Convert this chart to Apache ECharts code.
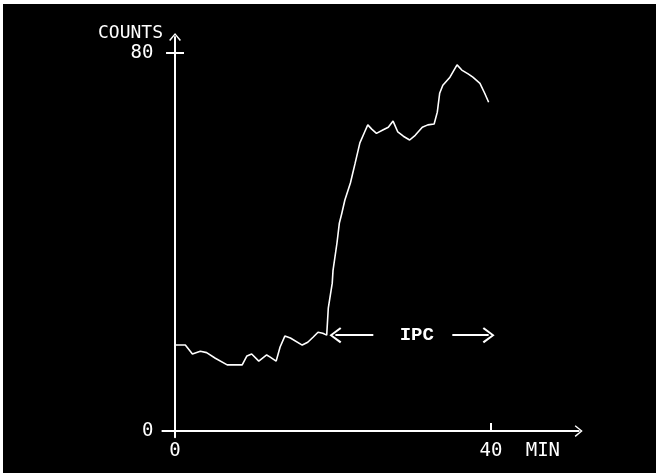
<!DOCTYPE html>
<html>
<head>
<meta charset="utf-8">
<script src="https://cdn.jsdelivr.net/npm/echarts@6/dist/echarts.min.js"></script>
<style>
html,body{margin:0;padding:0;background:#ffffff;width:656px;height:473px;overflow:hidden;}
#chart{position:absolute;left:3px;top:4px;width:653px;height:469px;background:#000;}
</style>
</head>
<body>
<div id="chart"></div>
<script>
// Time (min) and counts
var times = [0,1.3,2.2,3.2,4.0,5.1,6.6,8.5,9.1,9.7,10.6,11.6,12.0,12.8,13.3,13.9,14.6,16.1,16.8,17.5,18.1,18.7,19.2,
  19.4,19.9,20.0,20.5,20.8,21.1,21.5,22.2,22.8,23.4,24.0,24.4,24.9,25.5,26.3,27.0,27.6,28.2,28.9,29.7,30.4,31.3,32.0,32.8,33.2,33.5,33.9,34.8,35.7,36.3,37.1,37.7,38.6,39.2,39.7];
var counts = [18.2,18.2,16.3,16.9,16.6,15.4,14.0,14.0,15.9,16.3,14.8,16.1,15.7,14.8,17.8,20.1,19.7,18.2,18.8,19.9,20.9,20.7,20.3,
  26,31.3,34,39.8,44,46,48.9,52.5,56.7,61,63.3,64.8,63.9,63,63.7,64.3,65.6,63.3,62.4,61.6,62.6,64.3,64.8,65,67.5,71.5,73.2,74.9,77.5,76.4,75.6,74.9,73.6,71.5,69.6];
var xTickValues = [0, 40];
var xTickLabels = ['0', '40'];
var xUnit = 'MIN';
var yTickValues = [0, 80];
var yTickLabels = ['0', '80'];
var yName = 'COUNTS';
// IPC annotation (data coordinates)
var ipcLabel = 'IPC';
var ipcLevel = 20.3;
var ipcLeftArrow = [25.1, 20.3];   // from, to (arrowhead)
var ipcRightArrow = [35.1, 39.7];
var ipcTextX = 30.6;

var seriesData = times.map(function (t, i) { return [t, counts[i]]; });

var chevron = 'path://M10,0 L20,12 L18,13.5 L10,3.5 L2,13.5 L0,12 Z';
var font = 'DejaVu Sans Mono';

var chart = echarts.init(document.getElementById('chart'), null, {renderer: 'canvas'});
chart.setOption({
  backgroundColor: '#000',
  animation: false,
  grid: {left: 159.4, top: 33, width: 416.3, height: 400.2},
  xAxis: {
    type: 'value', min: -1.6, max: 51.1,
    splitLine: {show: false},
    axisLine: {onZero: true, symbol: ['none', chevron], symbolSize: [12, 8],
      lineStyle: {color: '#fff', width: 2}},
    axisTick: {show: true, inside: true, length: 8, customValues: [40],
      lineStyle: {color: '#fff', width: 2}},
    axisLabel: {customValues: xTickValues, margin: 4, color: '#fff',
      fontFamily: font, fontSize: 19,
      formatter: function (v) { return xTickLabels[xTickValues.indexOf(v)]; }},
    name: xUnit, nameLocation: 'end', nameGap: -53,
    nameTextStyle: {color: '#fff', fontFamily: font, fontSize: 19,
      align: 'left', verticalAlign: 'top', padding: [11, 0, 0, 0]}
  },
  yAxis: [{
    type: 'value', min: -1.3, max: 83.4,
    splitLine: {show: false},
    axisLine: {onZero: true, symbol: ['none', chevron], symbolSize: [18, 8],
      lineStyle: {color: '#fff', width: 2}},
    axisTick: {show: true, length: 9, customValues: [80],
      lineStyle: {color: '#fff', width: 2}},
    axisLabel: {customValues: yTickValues, margin: 9, color: '#fff',
      fontFamily: font, fontSize: 19,
      formatter: function (v) { return yTickLabels[yTickValues.indexOf(v)]; }},
    name: yName, nameLocation: 'end', nameGap: 4,
    nameTextStyle: {color: '#fff', fontFamily: font, fontSize: 18,
      align: 'right', verticalAlign: 'middle', padding: [0, 12, 0, 0]}
  }, {
    type: 'value', min: -1.3, max: 83.4, position: 'left', offset: -12.6,
    splitLine: {show: false},
    axisLine: {show: false, onZero: false},
    axisTick: {show: true, inside: true, length: 9, customValues: [80],
      lineStyle: {color: '#fff', width: 2}},
    axisLabel: {show: false}
  }],
  series: [{
    type: 'line',
    data: seriesData,
    showSymbol: false,
    lineStyle: {color: '#fff', width: 1.6},
    markLine: {
      silent: true,
      symbol: ['none', chevron],
      symbolSize: [16, 12],
      label: {show: false},
      lineStyle: {color: '#fff', width: 2, type: 'solid'},
      itemStyle: {color: '#fff'},
      data: [
        [{coord: [ipcLeftArrow[0], ipcLevel]}, {coord: [ipcLeftArrow[1], ipcLevel]}],
        [{coord: [ipcRightArrow[0], ipcLevel]}, {coord: [ipcRightArrow[1], ipcLevel]}]
      ]
    },
    markPoint: {
      silent: true,
      symbol: 'circle', symbolSize: 1,
      itemStyle: {color: 'rgba(0,0,0,0)'},
      label: {show: true, position: 'inside', formatter: ipcLabel, color: '#fff',
        fontFamily: 'Liberation Mono', fontWeight: 'bold', fontSize: 19},
      data: [{coord: [ipcTextX, ipcLevel]}]
    }
  }]
});
</script>
</body>
</html>
